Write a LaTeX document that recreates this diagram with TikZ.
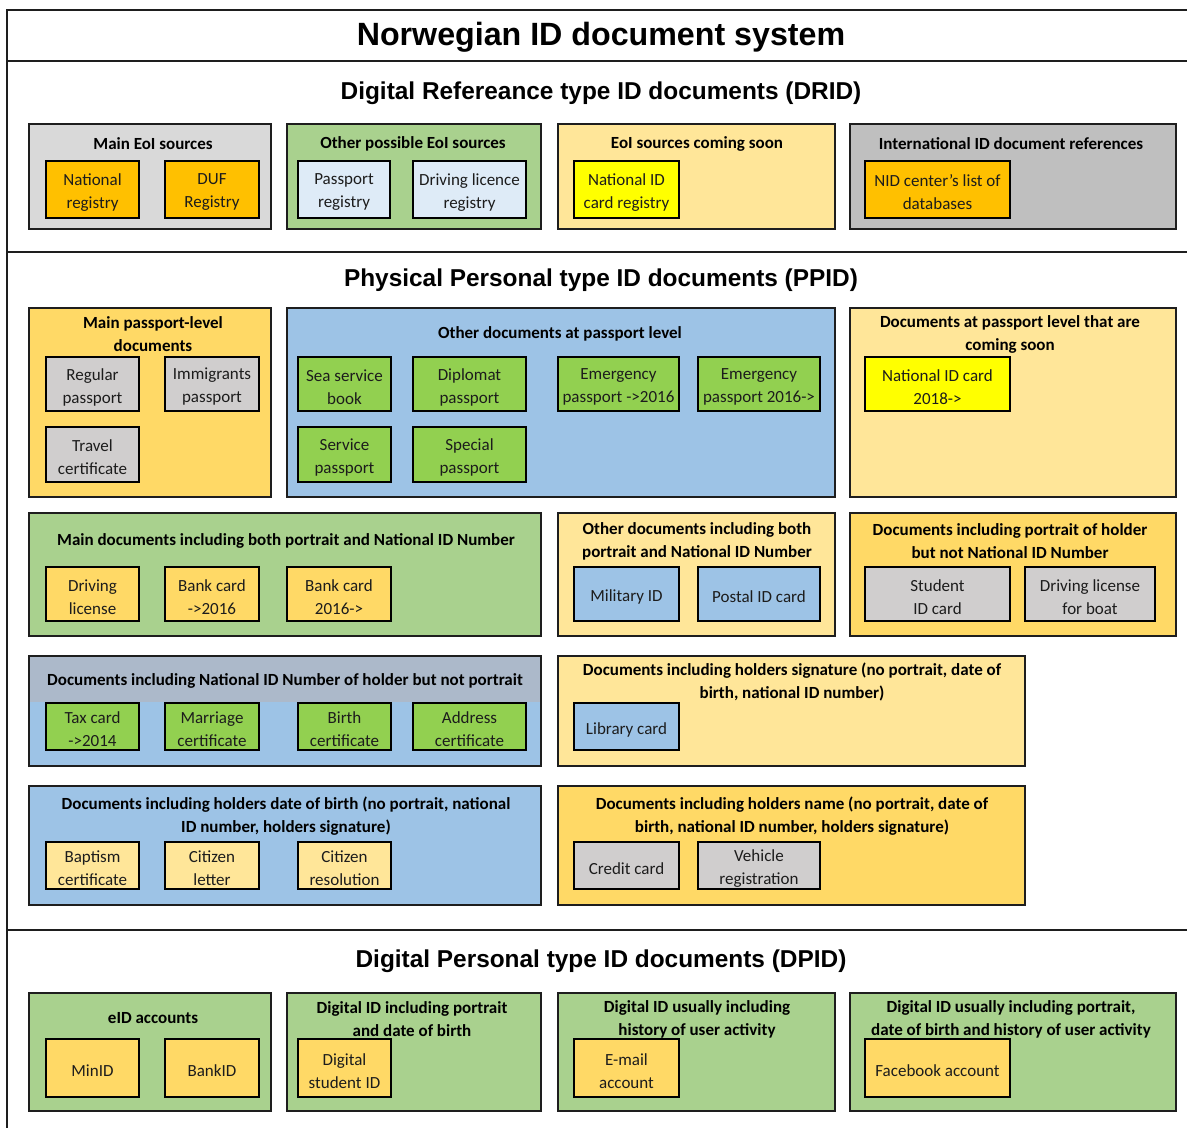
\documentclass[tikz,border=0pt]{standalone}
\usepackage{fontspec}
\setmainfont{Carlito}
\newfontfamily\headfont{Liberation Sans}
\usetikzlibrary{calc}

\definecolor{cGrayA}{HTML}{D9D9D9}
\definecolor{cGrayB}{HTML}{BFBFBF}
\definecolor{cOrange}{HTML}{FFC000}
\definecolor{cGreen}{HTML}{A9D18E}
\definecolor{cIce}{HTML}{DEEBF7}
\definecolor{cPale}{HTML}{FFE699}
\definecolor{cYellow}{HTML}{FFFF00}
\definecolor{cGold}{HTML}{FFD966}
\definecolor{cBlue}{HTML}{9DC3E6}
\definecolor{cItemGray}{HTML}{D0CECE}
\definecolor{cLeaf}{HTML}{92D050}
\definecolor{cSlate}{HTML}{ACB9CA}
\definecolor{cInk}{HTML}{1E1E1E}
\definecolor{cText}{HTML}{1C1C1C}

\tikzset{
  frameline/.style={line width=2pt, draw=cInk},
  grp/.style={draw=cInk, line width=2pt, rectangle, inner sep=0pt, outer sep=0pt},
  itembox/.style={draw=black, line width=2pt, rectangle, inner sep=0pt},
  itemtext/.style={align=center, text=cText, inner sep=0pt,
    font=\fontsize{17}{23}\selectfont},
  gtitle/.style={align=center, text=black, inner sep=0pt,
    font=\bfseries\fontsize{17}{23}\selectfont},
  sectitle/.style={inner sep=0pt, text=black, font=\headfont\bfseries\fontsize{24.4}{28}\selectfont},
  maintitle/.style={inner sep=0pt, text=black, font=\headfont\bfseries\fontsize{32.2}{36}\selectfont},
}

% group box: name, x1, y1, x2, y2, fill
\newcommand\mkgroup[6]{%
  \node[grp, fill=#6, minimum width={(#4-#2)*1pt}, minimum height={(#5-#3)*1pt}]
    (#1) at ({(#2+#4)/2},{(#3+#5)/2}) {};}
% item box with its label: name, x1, y1, x2, y2, fill, text
\newcommand\mkitem[7]{%
  \node[itembox, fill=#6, minimum width={(#4-#2)*1pt}, minimum height={(#5-#3)*1pt}]
    (#1) at ({(#2+#4)/2},{(#3+#5)/2}) {};
  \node[itemtext] (#1-label) at ([yshift=-3pt]#1.center) {#7};}

\begin{document}
\begin{tikzpicture}[x=1pt,y=-1pt]
\useasboundingbox[fill=white] (0,0) rectangle (1187,1128);

% outer frame and section rules
\coordinate (fTL) at (7,10);
\coordinate (fTR) at (1200,10);
\coordinate (fBL) at (7,1140);
\draw[frameline] (fTR) -- (fTL) -- (fBL);
\coordinate (r1L) at (7,61);   \coordinate (r1R) at (1200,61);
\coordinate (r2L) at (7,252);  \coordinate (r2R) at (1200,252);
\coordinate (r3L) at (7,930);  \coordinate (r3R) at (1200,930);
\draw[frameline] (r1L) -- (r1R);
\draw[frameline] (r2L) -- (r2R);
\draw[frameline] (r3L) -- (r3R);

\node[maintitle] (title) at (601,37) {Norwegian ID document system};
\node[sectitle] (drid) at (601,93) {Digital Refereance type ID documents (DRID)};
\node[sectitle] (ppid) at (601,280) {Physical Personal type ID documents (PPID)};
\node[sectitle] (dpid) at (601,961) {Digital Personal type ID documents (DPID)};

% ---------- DRID ----------
\mkgroup{g1}{29}{124}{271}{229}{cGrayA}
\node[gtitle] (g1t) at (153,144) {Main EoI sources};
\mkitem{nreg}{46}{161}{139}{218}{cOrange}{National\\registry}
\mkitem{duf}{165}{161}{259}{218}{cOrange}{DUF\\Registry}

\mkgroup{g2}{287}{124}{541}{229}{cGreen}
\node[gtitle] (g2t) at (413,144) {Other possible EoI sources};
\mkitem{preg}{298}{161}{390}{218}{cIce}{Passport\\registry}
\mkitem{dreg}{413}{161}{526}{218}{cIce}{Driving licence\\registry}

\mkgroup{g3}{558}{124}{835}{229}{cPale}
\node[gtitle] (g3t) at (697,144) {EoI sources coming soon};
\mkitem{nidreg}{574}{161}{679}{218}{cYellow}{National ID\\card registry}

\mkgroup{g4}{850}{124}{1176}{229}{cGrayB}
\node[gtitle] (g4t) at (1011,144) {International ID document references};
\mkitem{nidc}{865}{161}{1010}{218}{cOrange}{NID center's list of\\databases}

% ---------- PPID ----------
\mkgroup{g5}{29}{308}{271}{497}{cGold}
\node[gtitle] (g5t) at (153,334) {Main passport-level\\documents};
\mkitem{regp}{46}{357}{139}{411}{cItemGray}{Regular\\passport}
\mkitem{immp}{165}{357}{259}{411}{cItemGray}{Immigrants\\passport}
\mkitem{trav}{46}{427}{139}{482}{cItemGray}{Travel\\certificate}

\mkgroup{g6}{287}{308}{835}{497}{cBlue}
\node[gtitle] (g6t) at (560,334) {Other documents at passport level};
\mkitem{sea}{298}{357}{391}{411}{cLeaf}{Sea service\\book}
\mkitem{dipl}{413}{357}{526}{411}{cLeaf}{Diplomat\\passport}
\mkitem{emA}{558}{357}{679}{411}{cLeaf}{Emergency\\passport ->2016}
\mkitem{emB}{698}{357}{820}{411}{cLeaf}{Emergency\\passport 2016->}
\mkitem{serv}{298}{427}{391}{482}{cLeaf}{Service\\passport}
\mkitem{spec}{413}{427}{526}{482}{cLeaf}{Special\\passport}

\mkgroup{g7}{850}{308}{1176}{497}{cPale}
\node[gtitle] (g7t) at (1010,334) {Documents at passport level that are\\coming soon};
\mkitem{nidcard}{865}{357}{1010}{411}{cYellow}{National ID card\\2018->}

\mkgroup{g8}{29}{513}{541}{636}{cGreen}
\node[gtitle] (g8t) at (286,541) {Main documents including both portrait and National ID Number};
\mkitem{drv}{46}{567}{139}{621}{cGold}{Driving\\license}
\mkitem{bankA}{165}{567}{259}{621}{cGold}{Bank card\\->2016}
\mkitem{bankB}{287}{567}{391}{621}{cGold}{Bank card\\2016->}

\mkgroup{g9}{558}{513}{835}{636}{cPale}
\node[gtitle] (g9t) at (697,541) {Other documents including both\\portrait and National ID Number};
\mkitem{mil}{574}{567}{679}{621}{cBlue}{Military ID}
\mkitem{postal}{698}{567}{820}{621}{cBlue}{Postal ID card}

\mkgroup{g10}{850}{513}{1176}{636}{cGold}
\node[gtitle] (g10t) at (1010,541) {Documents including portrait of holder\\but not National ID Number};
\mkitem{stud}{865}{567}{1010}{621}{cItemGray}{Student\\ID card}
\mkitem{boat}{1025}{567}{1155}{621}{cItemGray}{Driving license\\for boat}

\mkgroup{g11}{29}{656}{541}{766}{cBlue}
\fill[cSlate] ($(g11.north west)+(1,1)$) rectangle ($(g11.north east)+(-1,46)$);
\draw[line width=2pt, draw=cInk] (g11.north west) rectangle (g11.south east);
\node[gtitle] (g11t) at (285,681) {Documents including National ID Number of holder but not portrait};
\mkitem{tax}{46}{703}{139}{750}{cLeaf}{Tax card\\->2014}
\mkitem{marr}{165}{703}{259}{750}{cLeaf}{Marriage\\certificate}
\mkitem{birth}{298}{703}{391}{750}{cLeaf}{Birth\\certificate}
\mkitem{addr}{413}{703}{526}{750}{cLeaf}{Address\\certificate}

\mkgroup{g12}{558}{656}{1025}{766}{cPale}
\node[gtitle] (g12t) at (792,682) {Documents including holders signature (no portrait, date of\\birth, national ID number)};
\mkitem{lib}{574}{703}{679}{750}{cBlue}{Library card}

\mkgroup{g13}{29}{786}{541}{905}{cBlue}
\node[gtitle] (g13t) at (286,816) {Documents including holders date of birth (no portrait, national\\ID number, holders signature)};
\mkitem{bapt}{46}{842}{139}{889}{cPale}{Baptism\\certificate}
\mkitem{citl}{165}{842}{259}{889}{cPale}{Citizen\\letter}
\mkitem{citr}{298}{842}{391}{889}{cPale}{Citizen\\resolution}

\mkgroup{g14}{558}{786}{1025}{905}{cGold}
\node[gtitle] (g14t) at (792,816) {Documents including holders name (no portrait, date of\\birth, national ID number, holders signature)};
\mkitem{credit}{574}{842}{679}{889}{cItemGray}{Credit card}
\mkitem{vehic}{698}{842}{820}{889}{cItemGray}{Vehicle\\registration}

% ---------- DPID ----------
\mkgroup{g15}{29}{993}{271}{1111}{cGreen}
\node[gtitle] (g15t) at (153,1018) {eID accounts};
\mkitem{minid}{46}{1039}{139}{1097}{cGold}{MinID}
\mkitem{bankid}{165}{1039}{259}{1097}{cGold}{BankID}

\mkgroup{g16}{287}{993}{541}{1111}{cGreen}
\node[gtitle] (g16t) at (412,1019) {Digital ID including portrait\\and date of birth};
\mkitem{dstud}{298}{1039}{391}{1097}{cGold}{Digital\\student ID}

\mkgroup{g17}{558}{993}{835}{1111}{cGreen}
\node[gtitle] (g17t) at (697,1019) {Digital ID usually including\\history of user activity};
\mkitem{email}{574}{1039}{679}{1097}{cGold}{E-mail\\account}

\mkgroup{g18}{850}{993}{1176}{1111}{cGreen}
\node[gtitle] (g18t) at (1011,1019) {Digital ID usually including portrait,\\date of birth and history of user activity};
\mkitem{fb}{865}{1039}{1010}{1097}{cGold}{Facebook account}
\end{tikzpicture}
\end{document}
